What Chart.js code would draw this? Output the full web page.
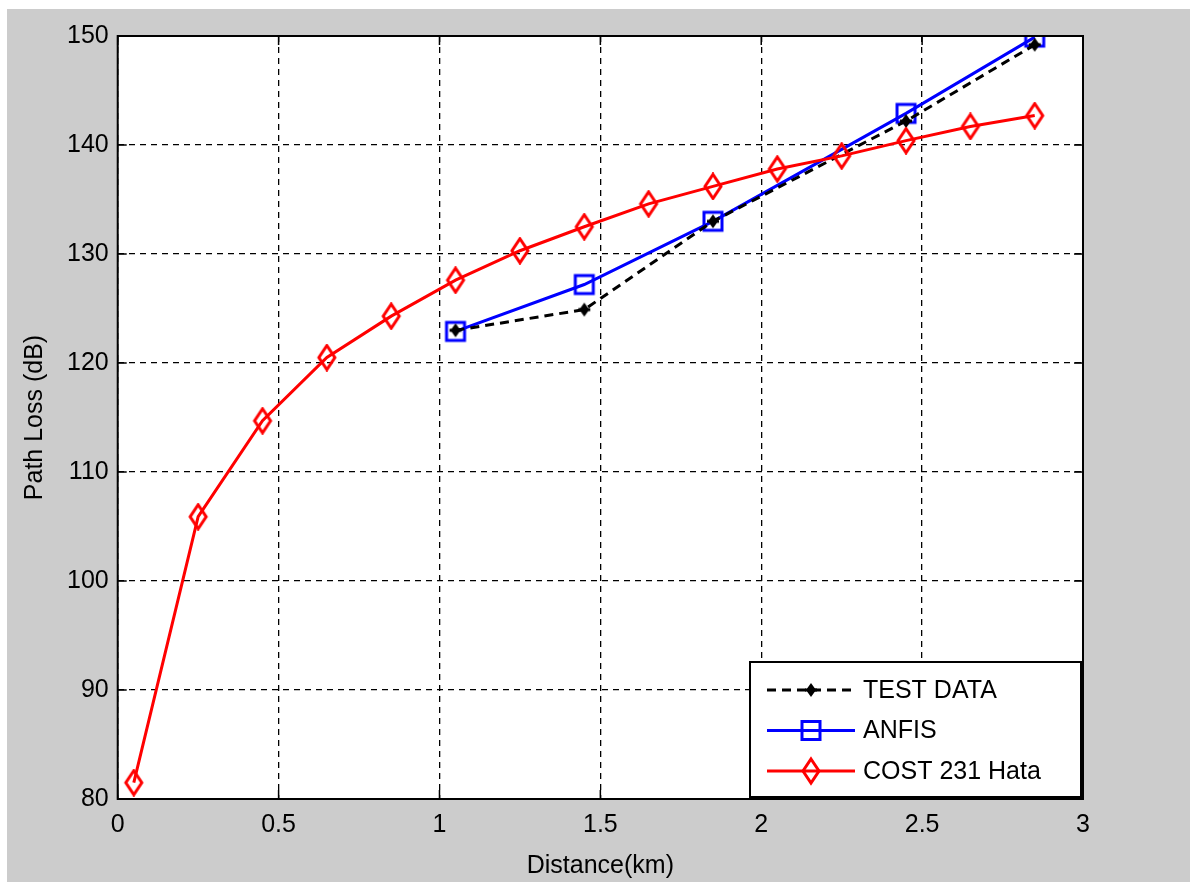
<!DOCTYPE html>
<html>
<head>
<meta charset="utf-8">
<script src="https://cdn.jsdelivr.net/npm/chart.js@4.4.0/dist/chart.umd.min.js"></script>
<style>
  html, body { margin: 0; padding: 0; background: #fff; }
  #frame { position: absolute; left: 7px; top: 9px; width: 1183px; height: 873px; background: #cccccc; }
  #wrap { position: absolute; left: 0; top: 0; width: 1195px; height: 888px; }
</style>
</head>
<body>
<div id="frame"></div>
<div id="wrap"><canvas id="plChart" width="1195" height="888"></canvas></div>
<script>
// distances (km)
const costX = [0.05, 0.25, 0.45, 0.65, 0.85, 1.05, 1.25, 1.45, 1.65, 1.85, 2.05, 2.25, 2.45, 2.65, 2.85];
const costY = [81.5, 105.9, 114.7, 120.5, 124.3, 127.6, 130.3, 132.5, 134.6, 136.2, 137.8, 139.0, 140.4, 141.7, 142.7];

const testX = [1.05, 1.45, 1.85, 2.45, 2.85];
const testY = [123.0, 124.9, 133.0, 142.2, 149.2];

const anfisX = [1.05, 1.45, 1.85, 2.45, 2.85];
const anfisY = [122.9, 127.2, 133.0, 142.9, 149.9];

const xTicks = [0, 0.5, 1, 1.5, 2, 2.5, 3];
const yTicks = [80, 90, 100, 110, 120, 130, 140, 150];

const legendItems = [
    { label: 'TEST DATA', color: '#000000', dash: [9, 6], marker: 'star' },
    { label: 'ANFIS', color: '#0000ff', dash: [], marker: 'square' },
    { label: 'COST 231 Hata', color: '#ff0000', dash: [], marker: 'diamond' }
];

const FONT = "'Liberation Sans', Arial, sans-serif";

function pts(xs, ys) {
    return xs.map((x, i) => ({ x: x, y: ys[i] }));
}

function drawMarker(ctx, kind, x, y, color) {
    ctx.save();
    ctx.strokeStyle = color;
    ctx.fillStyle = color;
    ctx.lineWidth = 3;
    ctx.setLineDash([]);
    if (kind === 'square') {
        ctx.strokeRect(x - 9, y - 9, 18, 18);
    } else if (kind === 'diamond') {
        ctx.beginPath();
        ctx.moveTo(x, y - 12);
        ctx.lineTo(x + 8, y);
        ctx.lineTo(x, y + 12);
        ctx.lineTo(x - 8, y);
        ctx.closePath();
        ctx.stroke();
    } else {
        ctx.beginPath();
        ctx.moveTo(x, y - 7); ctx.lineTo(x + 5, y); ctx.lineTo(x, y + 7); ctx.lineTo(x - 5, y);
        ctx.closePath();
        ctx.fill();
        ctx.fillRect(x - 6, y - 1.5, 12, 3);
    }
    ctx.restore();
}

function markerImage(kind, color) {
    const c = document.createElement('canvas');
    c.width = 26; c.height = 28;
    drawMarker(c.getContext('2d'), kind, 13, 14, color);
    return c;
}

// matlab style box, inward ticks and legend
const matlabBox = {
    id: 'matlabBox',
    afterDatasetsDraw(chart) {
        const ctx = chart.ctx;
        const a = chart.chartArea;
        const xs = chart.scales.x, ys = chart.scales.y;
        ctx.save();
        ctx.strokeStyle = '#000';
        ctx.lineWidth = 1.5;
        ctx.setLineDash([]);
        ctx.beginPath();
        xTicks.forEach(v => {
            const px = xs.getPixelForValue(v);
            ctx.moveTo(px, a.bottom); ctx.lineTo(px, a.bottom - 9);
            ctx.moveTo(px, a.top); ctx.lineTo(px, a.top + 9);
        });
        yTicks.forEach(v => {
            const py = ys.getPixelForValue(v);
            ctx.moveTo(a.left, py); ctx.lineTo(a.left + 9, py);
            ctx.moveTo(a.right, py); ctx.lineTo(a.right - 9, py);
        });
        ctx.stroke();
        ctx.lineWidth = 2;
        ctx.strokeRect(a.left, a.top, a.right - a.left, a.bottom - a.top);

        // legend box
        const w = 331, h = 135;
        const lx = a.right - w - 2, ly = a.bottom - h - 2;
        ctx.fillStyle = '#fff';
        ctx.fillRect(lx, ly, w, h);
        ctx.lineWidth = 2;
        ctx.strokeStyle = '#000';
        ctx.strokeRect(lx, ly, w, h);
        ctx.font = '25px ' + FONT;
        ctx.textBaseline = 'middle';
        legendItems.forEach((it, i) => {
            const yy = ly + 28 + i * 40.5;
            ctx.strokeStyle = it.color;
            ctx.lineWidth = 3;
            ctx.setLineDash(it.dash);
            ctx.beginPath();
            ctx.moveTo(lx + 17, yy); ctx.lineTo(lx + 105, yy);
            ctx.stroke();
            drawMarker(ctx, it.marker, lx + 61, yy, it.color);
            ctx.fillStyle = '#000';
            ctx.fillText(it.label, lx + 113, yy + 1);
        });
        ctx.restore();
    }
};

const plotBg = {
    id: 'plotBg',
    beforeDraw(chart) {
        const a = chart.chartArea;
        chart.ctx.save();
        chart.ctx.fillStyle = '#fff';
        chart.ctx.fillRect(a.left, a.top, a.right - a.left, a.bottom - a.top);
        chart.ctx.restore();
    }
};

new Chart(document.getElementById('plChart'), {
    type: 'line',
    data: {
        datasets: [
            {
                label: 'COST 231 Hata',
                data: pts(costX, costY),
                borderColor: '#ff0000',
                borderWidth: 3,
                pointStyle: markerImage('diamond', '#ff0000'),
                pointRadius: 12,
                tension: 0
            },
            {
                label: 'TEST DATA',
                data: pts(testX, testY),
                borderColor: '#000000',
                borderWidth: 3,
                borderDash: [9, 6],
                pointStyle: markerImage('star', '#000000'),
                pointRadius: 7,
                tension: 0
            },
            {
                label: 'ANFIS',
                data: pts(anfisX, anfisY),
                borderColor: '#0000ff',
                borderWidth: 3,
                pointStyle: markerImage('square', '#0000ff'),
                pointRadius: 11,
                tension: 0
            }
        ]
    },
    options: {
        responsive: false,
        animation: false,
        layout: { padding: { left: 16, top: 36, right: 112, bottom: 3 } },
        plugins: {
            legend: { display: false },
            tooltip: { enabled: false }
        },
        scales: {
            x: {
                type: 'linear',
                min: 0, max: 3,
                afterBuildTicks: s => { s.ticks = xTicks.map(v => ({ value: v })); },
                grid: { color: '#000', lineWidth: 1.3, drawTicks: false },
                border: { display: false, dash: [6, 5] },
                ticks: { color: '#000', font: { family: FONT, size: 25 }, padding: 11, callback: v => String(v) },
                title: { display: true, text: 'Distance(km)', color: '#000', font: { family: FONT, size: 25 }, padding: { top: 0 } }
            },
            y: {
                min: 80, max: 150,
                afterBuildTicks: s => { s.ticks = yTicks.map(v => ({ value: v })); },
                grid: { color: '#000', lineWidth: 1.3, drawTicks: false },
                border: { display: false, dash: [6, 5] },
                ticks: { color: '#000', font: { family: FONT, size: 25 }, padding: 9, callback: v => String(v) },
                title: { display: true, text: 'Path Loss (dB)', color: '#000', font: { family: FONT, size: 25 }, padding: { bottom: 8 } }
            }
        }
    },
    plugins: [plotBg, matlabBox]
});
</script>
</body>
</html>
